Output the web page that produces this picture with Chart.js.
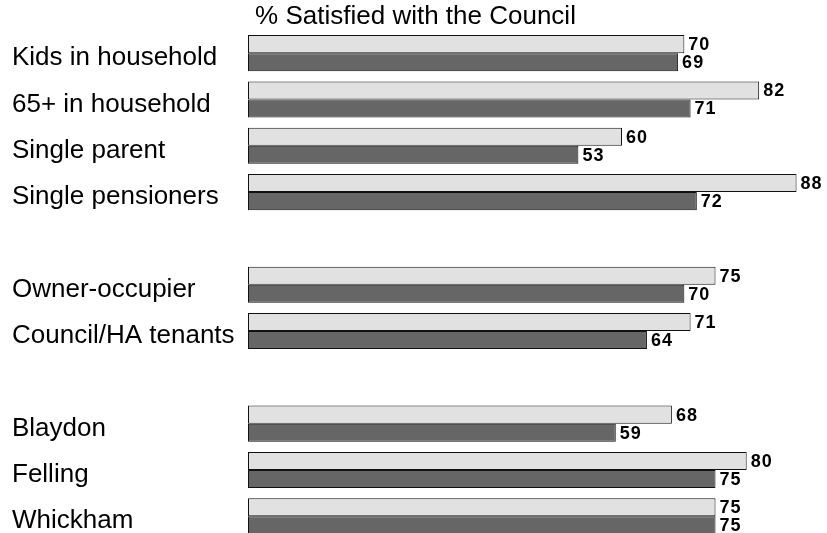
<!DOCTYPE html>
<html>
<head>
<meta charset="utf-8">
<title>% Satisfied with the Council</title>
<script src="https://cdn.jsdelivr.net/npm/chart.js@4.4.1/dist/chart.umd.min.js"></script>
<style>
  html, body { margin: 0; padding: 0; background: #fff; overflow: hidden; }
  #wrap { width: 827px; height: 533px; overflow: hidden; }
</style>
</head>
<body>
<div id="wrap">
  <canvas id="satChart" width="827" height="558"></canvas>
</div>
<script>
// Groups are separated by an empty row
const groups = ['Kids in household', '65+ in household', 'Single parent', 'Single pensioners', '',
                'Owner-occupier', 'Council/HA tenants', '',
                'Blaydon', 'Felling', 'Whickham'];
const lightValues = [70, 82, 60, 88, null, 75, 71, null, 68, 80, 75];
const darkValues  = [69, 71, 53, 72, null, 70, 64, null, 59, 75, 75];

// Prints the value just past the end of each bar
const valueLabels = {
  id: 'valueLabels',
  afterDatasetsDraw(chart) {
    const ctx = chart.ctx;
    ctx.save();
    ctx.font = 'bold 18px Arial, "Liberation Sans", sans-serif';
    ctx.fillStyle = '#000';
    ctx.textAlign = 'left';
    ctx.textBaseline = 'middle';
    if ('letterSpacing' in ctx) ctx.letterSpacing = '1px';
    chart.data.datasets.forEach((ds, i) => {
      chart.getDatasetMeta(i).data.forEach((bar, j) => {
        const v = ds.data[j];
        if (v == null) return;
        ctx.fillText(String(v), bar.x + 4, bar.y + 1);
      });
    });
    ctx.restore();
  }
};

new Chart(document.getElementById('satChart'), {
  type: 'bar',
  data: {
    labels: groups,
    datasets: [
      { data: lightValues, backgroundColor: '#e1e1e1', borderColor: '#111', borderWidth: 1, borderSkipped: false },
      { data: darkValues, backgroundColor: '#666666', borderColor: '#111', borderWidth: 1, borderSkipped: false }
    ]
  },
  options: {
    indexAxis: 'y',
    responsive: false,
    animation: false,
    categoryPercentage: 0.78,
    barPercentage: 1,
    layout: { padding: { left: 12, right: 8, top: 0, bottom: 1 } },
    plugins: {
      legend: { display: false },
      tooltip: { enabled: false },
      title: {
        display: true,
        text: '% Satisfied with the Council',
        color: '#000',
        font: { family: 'Arial, "Liberation Sans", sans-serif', size: 26, weight: 'normal', lineHeight: 1 },
        padding: { top: 4, bottom: 0 }
      }
    },
    scales: {
      x: {
        min: 0,
        max: 91.6,
        display: false
      },
      y: {
        grid: { display: false },
        border: { display: false },
        ticks: {
          crossAlign: 'far',
          labelOffset: 5,
          color: '#000',
          font: { family: 'Arial, "Liberation Sans", sans-serif', size: 26 }
        },
        afterFit(scale) { scale.width = 236; }
      }
    }
  },
  plugins: [valueLabels]
});
</script>
</body>
</html>
